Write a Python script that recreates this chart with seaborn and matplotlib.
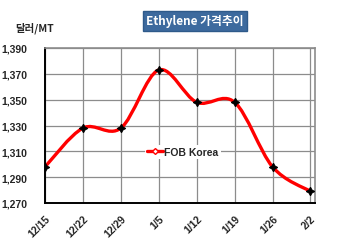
import matplotlib
matplotlib.use("Agg")
import matplotlib.pyplot as plt
import seaborn as sns
import numpy as np
import pandas as pd
from matplotlib.path import Path
from matplotlib.patches import PathPatch
from matplotlib.lines import Line2D

dates = ["12/15", "12/22", "12/29", "1/5", "1/12", "1/19", "1/26", "2/2"]
fob_korea = [1298, 1328, 1328, 1373, 1348, 1348, 1298, 1279]
yticks = [1270, 1290, 1310, 1330, 1350, 1370, 1390]

sns.set_style("white")
plt.rcParams['font.family'] = ['Liberation Sans', 'Noto Sans CJK KR', 'DejaVu Sans']

df = pd.DataFrame({"x": range(len(dates)), "price": fob_korea})

fig = plt.figure(figsize=(3.5, 2.53), dpi=100)
ax = fig.add_axes([45/350, 1-204/253, 270/350, 155/253])

# smoothed line (Excel-style bezier) drawn in data coordinates
xs = df["x"].to_numpy(float)
ys = df["price"].to_numpy(float)
pts = np.column_stack([xs, ys])
verts = [tuple(pts[0])]
codes = [Path.MOVETO]
n = len(pts)
for i in range(n - 1):
    p0 = pts[i - 1] if i > 0 else pts[i]
    p1 = pts[i]
    p2 = pts[i + 1]
    p3 = pts[i + 2] if i + 2 < n else pts[i + 1]
    c1 = p1 + (p2 - p0) / 6.0
    c2 = p2 - (p3 - p1) / 6.0
    verts += [tuple(c1), tuple(c2), tuple(p2)]
    codes += [Path.CURVE4] * 3
ax.add_patch(PathPatch(Path(verts, codes), facecolor="none", edgecolor="#ff0000",
                       lw=2.4, zorder=3, capstyle="round", joinstyle="round"))

sns.lineplot(data=df, x="x", y="price", ax=ax, linestyle="none", marker=(4, 1, 0),
             markersize=6, color="black", markeredgecolor="black", markeredgewidth=0.8,
             zorder=4, legend=False)

ax.set_xlim(0, 7.12)
ax.set_ylim(1270, 1390)
ax.set_xticks(range(len(dates)))
ax.set_xticklabels(dates, rotation=45, ha="right", rotation_mode="anchor",
                   fontsize=7.5, fontweight="bold")
ax.set_yticks(yticks)
ax.set_yticklabels([f"{v:,}" for v in yticks], fontsize=7.5, fontweight="bold")
ax.tick_params(axis="y", pad=13, length=0)
ax.tick_params(axis="x", pad=7, length=0)
ax.set_xlabel("")
ax.set_ylabel("")

ax.grid(True, color="#8c8c8c", lw=0.9, zorder=0)
ax.set_axisbelow(True)
for s in ["left", "bottom"]:
    ax.spines[s].set_color("black")
    ax.spines[s].set_linewidth(1.4)
for s in ["top", "right"]:
    ax.spines[s].set_color("#8c8c8c")
    ax.spines[s].set_linewidth(1.2)

handle = Line2D([], [], color="#ff0000", lw=2.4, marker="D", markersize=3,
                markerfacecolor="white", markeredgecolor="#ff0000")
leg = ax.legend([handle], ["FOB Korea"], loc="center", bbox_to_anchor=(0.51, 0.33),
                frameon=True, handlelength=1.6, handletextpad=0.1,
                borderpad=0.2, prop={"weight": "bold", "size": 7.5})
leg.get_frame().set_facecolor("white")
leg.get_frame().set_edgecolor("none")
leg.get_frame().set_alpha(1)

fig.text(195/350, 1-22/253, "Ethylene 가격추이", ha="center", va="center",
         fontsize=8.5, fontweight="bold", color="white",
         family=["Noto Sans CJK KR", "DejaVu Sans"],
         bbox=dict(boxstyle="square,pad=0.3", facecolor="#3d6a9e", edgecolor="#2e5a8a"))
fig.text(15/350, 1-28/253, "달러/MT", ha="left", va="center", fontsize=7.5,
         fontweight="bold", family=["Noto Sans CJK KR", "DejaVu Sans"])

fig.savefig("out.png", dpi=100, facecolor="white")
